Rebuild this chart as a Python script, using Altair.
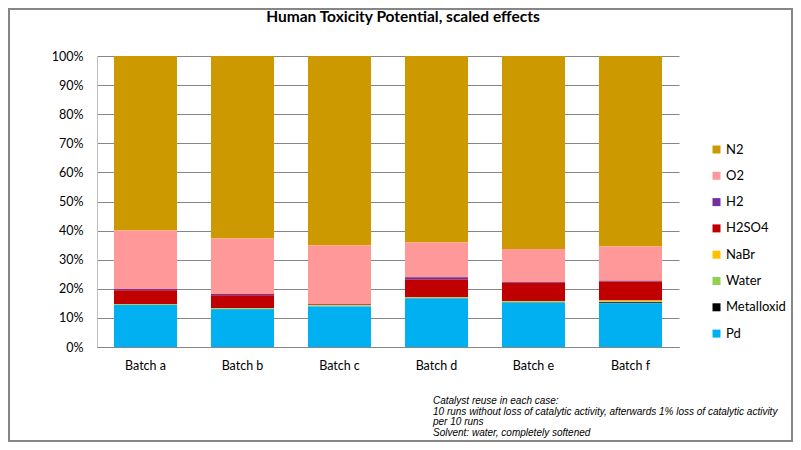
import altair as alt
import pandas as pd

batches = ["Batch a", "Batch b", "Batch c", "Batch d", "Batch e", "Batch f"]
series = ["N2", "O2", "H2", "H2SO4", "NaBr", "Water", "Metalloxid", "Pd"]
colors = ["#CC9900", "#FF9999", "#7030A0", "#C00000", "#FFC000", "#92D050", "#000000", "#00B0F0"]

pd_vals = [14.4, 13.0, 13.9, 16.7, 15.2, 15.0]
metalloxid_vals = [0.05, 0.05, 0.05, 0.05, 0.05, 0.35]
water_vals = [0.2, 0.3, 0.4, 0.3, 0.5, 0.3]
nabr_vals = [0.05, 0.05, 0.05, 0.05, 0.1, 0.3]
h2so4_vals = [4.8, 4.4, 0.2, 6.1, 6.2, 6.55]
h2_vals = [0.4, 0.4, 0.2, 0.8, 0.3, 0.3]
o2_vals = [20.1, 19.1, 20.1, 11.9, 11.3, 11.7]
n2_vals = [60.0, 62.7, 65.1, 64.1, 66.35, 65.5]

y_ticks = [0.0, 0.1, 0.2, 0.3, 0.4, 0.5, 0.6, 0.7, 0.8, 0.9, 1.0]

note_lines = [
    "Catalyst reuse in each case:",
    "10 runs without loss of catalytic activity,  afterwards 1% loss of catalytic activity",
    "per 10 runs",
    "Solvent: water,  completely softened",
]
title_text = "Human Toxicity Potential, scaled effects"

values = {
    "N2": n2_vals, "O2": o2_vals, "H2": h2_vals, "H2SO4": h2so4_vals,
    "NaBr": nabr_vals, "Water": water_vals, "Metalloxid": metalloxid_vals, "Pd": pd_vals,
}
rows = []
for i, s in enumerate(series):
    for b, v in zip(batches, values[s]):
        rows.append({"batch": b, "series": s, "value": v, "order": len(series) - 1 - i})
df = pd.DataFrame(rows)

FONT = "Lato"

bars = alt.Chart(df).mark_bar().encode(
    x=alt.X("batch:N", sort=batches,
            scale=alt.Scale(paddingInner=0.35, paddingOuter=0.175),
            axis=alt.Axis(title=None, labelAngle=0, ticks=False, labelPadding=12,
                          domainColor="#868686", labelFont=FONT, labelFontSize=12.5,
                          labelColor="#000000")),
    y=alt.Y("value:Q", stack="normalize", scale=alt.Scale(domain=[0, 1]),
            axis=alt.Axis(title=None, format=".0%", values=y_ticks, ticks=False,
                          labelPadding=14, gridColor="#868686", gridOpacity=1,
                          domainColor="#BFBFBF", labelFont=FONT, labelFontSize=12.5,
                          labelColor="#000000")),
    color=alt.Color("series:N", scale=alt.Scale(domain=series, range=colors),
                    legend=alt.Legend(title=None, orient="none", legendX=613, legendY=87,
                                      symbolType="square", symbolSize=64,
                                      symbolStrokeWidth=0, labelFont=FONT,
                                      labelFontSize=13, labelColor="#000000",
                                      labelOffset=3, rowPadding=12.3)),
    order=alt.Order("order:Q", sort="ascending"),
)

one = pd.DataFrame({"k": [0]})

frame = alt.Chart(one).mark_rect(filled=False, fillOpacity=0, stroke="#868686", strokeWidth=2).encode(
    x=alt.value(-88), x2=alt.value(695), y=alt.value(-47), y2=alt.value(385)
)

title = alt.Chart(one).mark_text(
    text=title_text, font=FONT, fontSize=15.5, fontWeight="bold", align="center",
    baseline="middle", color="#000000"
).encode(x=alt.value(306), y=alt.value(-39))

note = alt.Chart(one).mark_text(
    text=note_lines, font="Liberation Sans", fontSize=10, fontStyle="italic",
    align="left", baseline="top", lineHeight=10.5, color="#000000"
).encode(x=alt.value(336), y=alt.value(340))

chart = alt.layer(frame, bars, title, note).properties(
    width=582, height=291,
    autosize=alt.AutoSizeParams(type="none"),
    padding={"left": 89, "top": 48, "right": 114, "bottom": 95},
).configure_view(stroke=None)

chart.save("out.html", embed_options={"renderer": "svg", "actions": False})
